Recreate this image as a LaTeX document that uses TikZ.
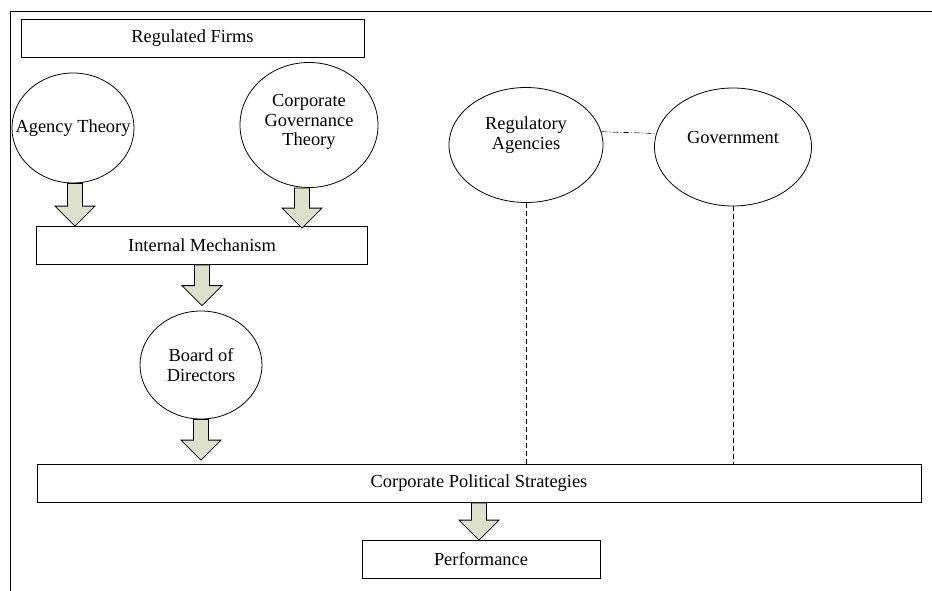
\documentclass[tikz,border=0pt]{standalone}
\usepackage{fontspec}
\setmainfont{Liberation Serif}
\usetikzlibrary{shapes.geometric,calc}
\definecolor{arrowgreen}{RGB}{221,224,204}

% block arrow pointing down, x and top taken from #1, tip at #2
\newcommand{\fatarrow}[2]{%
  \path[draw, fill=arrowgreen] let \p1=#1, \p2=#2 in
    (\x1-7.5pt,\y1) -- (\x1-7.5pt,\y2+20pt) -- (\x1-20pt,\y2+20pt) -- (\x1,\y2)
    -- (\x1+20pt,\y2+20pt) -- (\x1+7.5pt,\y2+20pt) -- (\x1+7.5pt,\y1) -- cycle;}

\begin{document}
\begin{tikzpicture}[x=1pt, y=-1pt, line width=0.8pt,
  font=\fontsize{18.4}{19.5}\selectfont,
  box/.style={draw, minimum width=#1, minimum height=38pt, inner sep=0pt},
  actor/.style n args={4}{draw, ellipse, minimum width=#1, minimum height=#2,
                          inner sep=0pt,
                          label={[align=center, yshift=#3]center:#4}},
  tie/.style={line width=0.6pt, dash pattern=on 5pt off 3pt},
  link/.style={line width=0.6pt, dash pattern=on 6pt off 2pt on 1pt off 2pt}
]
  \useasboundingbox (0,0) rectangle (932,591);
  % open frame
  \draw (10,591) -- (10,11) -- (932,11);
  % theories
  \node[box=343pt] (firms) at (192.5,38.5) {Regulated Firms};
  \node[actor={122pt}{110pt}{0pt}{Agency Theory}] (agency) at (73,128) {};
  \node[actor={138pt}{125pt}{3pt}{Corporate\\Governance\\Theory}] (cgt) at (309,125) {};
  % external actors
  \node[actor={154pt}{115pt}{10pt}{Regulatory\\Agencies}] (reg) at (526,145) {};
  \node[actor={157pt}{118pt}{10pt}{Government}] (gov) at (733,147) {};
  % chain
  \node[box=331pt] (im) at (202,245.5) {Internal Mechanism};
  \node[actor={122pt}{108pt}{0pt}{Board of\\Directors}] (board) at (201,365) {};
  \node[box=884pt] (cps) at (479,483.5) {Corporate Political Strategies};
  \node[box=238pt] (perf) at (481,559.5) {Performance};
  % block arrows
  \fatarrow{([xshift=2pt]agency.south)}{(im.north)}
  \fatarrow{([xshift=-7pt]cgt.south)}{([yshift=-2pt]im.north)}
  \fatarrow{(im.south)}{([yshift=5pt]board.north)}
  \fatarrow{(board.south)}{([yshift=4pt]cps.north)}
  \fatarrow{(cps.south)}{(perf.north)}
  % dashed links
  \draw[link] (reg.10) -- (gov.170);
  \draw[tie] (reg.south) -- (reg.south |- cps.north);
  \draw[tie] (gov.south) -- (gov.south |- cps.north);
\end{tikzpicture}
\end{document}
